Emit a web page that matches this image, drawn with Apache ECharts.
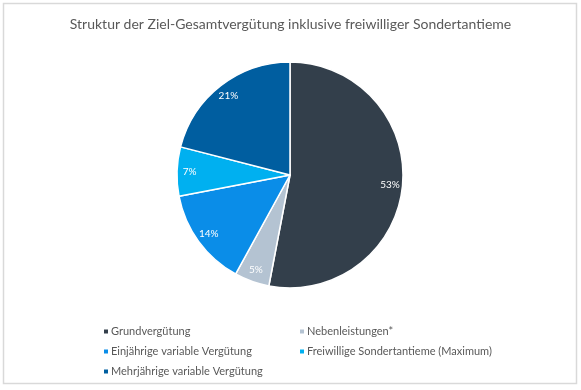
<!DOCTYPE html>
<html><head><meta charset="utf-8">
<script src="https://cdn.jsdelivr.net/npm/echarts@6/dist/echarts.min.js"></script>
<style>html,body{margin:0;padding:0;background:#fff}#c{width:581px;height:390px}</style>
</head><body><div id="c"></div>
<script>
const titleText = 'Struktur der Ziel-Gesamtvergütung inklusive freiwilliger Sondertantieme';
const categories = ['Grundvergütung', 'Nebenleistungen*', 'Einjährige variable Vergütung', 'Freiwillige Sondertantieme (Maximum)', 'Mehrjährige variable Vergütung'];
const values = [53, 5, 14, 7, 21];
const colors = ['#333F4B', '#B4C3D2', '#0A8DE8', '#00B0F0', '#005EA0'];
const legendLeftCol = [categories[0], categories[2], categories[4]];
const legendRightCol = [categories[1], categories[3]];

const data = categories.map((n, i) => ({ name: n, value: values[i], itemStyle: { color: colors[i] } }));
const FONT = 'Lato';
const chart = echarts.init(document.getElementById('c'), null, { renderer: 'canvas' });
const legendCommon = {
  orient: 'vertical', itemWidth: 6, itemHeight: 6, icon: 'rect', itemGap: 9,
  textStyle: { color: '#595959', fontSize: 11, fontFamily: FONT, padding: [0, 0, 0, -3] }
};
chart.setOption({
  animation: false,
  title: { text: titleText, left: 'center', top: 12, textStyle: { color: '#595959', fontSize: 14, fontWeight: 'normal', fontFamily: FONT } },
  graphic: [{ type: 'rect', shape: { x: 3.5, y: 3.5, width: 573, height: 380 }, style: { fill: 'none', stroke: '#D9D9D9', lineWidth: 1.5 }, silent: true }],
  legend: [
    Object.assign({ data: legendLeftCol, left: 97, top: 321 }, legendCommon),
    Object.assign({ data: legendRightCol, left: 293, top: 321 }, legendCommon)
  ],
  series: [
    {
      type: 'pie', center: [290, 175], radius: [0, 113], startAngle: 90, clockwise: true,
      data: data, label: { show: false }, labelLine: { show: false },
      itemStyle: { borderColor: '#fff', borderWidth: 1.5 }, emphasis: { disabled: true }
    },
    {
      type: 'pie', center: [290, 175], radius: [82, 113], startAngle: 90, clockwise: true, silent: true,
      data: data.map(d => ({ name: d.name, value: d.value })),
      itemStyle: { color: 'rgba(0,0,0,0)' },
      label: { show: true, position: 'inside', formatter: '{c}%', color: '#fff', fontSize: 10, fontFamily: FONT },
      labelLine: { show: false }, emphasis: { disabled: true }
    }
  ]
});
</script></body></html>
